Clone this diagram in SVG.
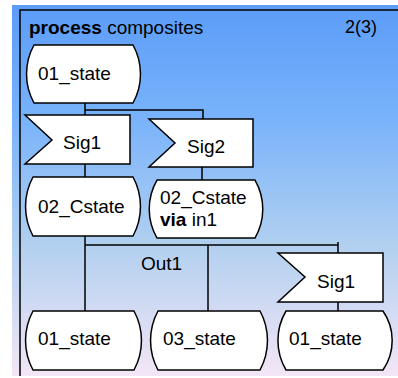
<svg xmlns="http://www.w3.org/2000/svg" width="398" height="378" viewBox="0 0 398 378">
<defs>
<linearGradient id="bg" x1="0" y1="0" x2="0" y2="1">
<stop offset="0" stop-color="#5b9cf8"/>
<stop offset="0.3" stop-color="#78b2fb"/>
<stop offset="0.65" stop-color="#b2d0f0"/>
<stop offset="1" stop-color="#f3e6f6"/>
</linearGradient>
<style>
.sh{fill:#fff;stroke:#000;stroke-width:1.5}
.ln{fill:none;stroke:#000;stroke-width:1.5}
text{font-family:"Liberation Sans",Arial,sans-serif;font-size:19px;fill:#000}
.b{font-weight:bold}
</style>
</defs>
<rect x="0" y="0" width="398" height="378" fill="#fff"/>
<rect x="12" y="5" width="386" height="371" fill="url(#bg)"/>
<path class="ln" d="M20,376 V10 H398"/>
<text x="29" y="34"><tspan class="b">process</tspan> composites</text>
<text x="345" y="33" style="font-size:18px">2(3)</text>
<g id="connectors">
<path class="ln" d="M85,103 V115"/>
<path class="ln" d="M85,110 H203 V119"/>
<path class="ln" d="M85,164 V177"/>
<path class="ln" d="M202,167 V180"/>
<path class="ln" d="M85,236 V311"/>
<path class="ln" d="M85,245 H338"/>
<path class="ln" d="M338,242 V253"/>
<path class="ln" d="M208,245 V311"/>
<path class="ln" d="M338,302 V311"/>
</g>
<g id="state1">
<path class="sh" d="M34,45 H133 A60,60 0 0 1 133,103 H34 A60,60 0 0 1 34,45 Z"/>
<text x="38" y="80">01_state</text>
</g>
<g id="sig1">
<path class="sh" d="M25,115 H130 V164 H25 L52,140 Z"/>
<text x="63" y="149">Sig1</text>
</g>
<g id="sig2">
<path class="sh" d="M149,119 H253 V167 H149 L175,143 Z"/>
<text x="187" y="153">Sig2</text>
</g>
<g id="cstate">
<path class="sh" d="M33,177 H133 A62,62 0 0 1 133,236 H33 A62,62 0 0 1 33,177 Z"/>
<text x="38" y="213">02_Cstate</text>
</g>
<g id="cstate_via">
<path class="sh" d="M157,180 H255 A58,58 0 0 1 255,238 H157 A58,58 0 0 1 157,180 Z"/>
<text x="160" y="204">02_Cstate</text>
<text x="160" y="226"><tspan class="b">via</tspan> in1</text>
</g>
<text x="141" y="270">Out1</text>
<g id="sig1b">
<path class="sh" d="M278,253 H383 V302 H278 L305,277 Z"/>
<text x="317" y="288">Sig1</text>
</g>
<g id="state1b">
<path class="sh" d="M33,311 H134 A62,62 0 0 1 134,370 H33 A62,62 0 0 1 33,311 Z"/>
<text x="38" y="345">01_state</text>
</g>
<g id="state3">
<path class="sh" d="M158,311 H260 A62,62 0 0 1 260,370 H158 A62,62 0 0 1 158,311 Z"/>
<text x="163" y="345">03_state</text>
</g>
<g id="state1c">
<path class="sh" d="M286,311 H383 A52,52 0 0 1 383,370 H286 A58,58 0 0 1 286,311 Z"/>
<text x="289" y="345">01_state</text>
</g>
</svg>
